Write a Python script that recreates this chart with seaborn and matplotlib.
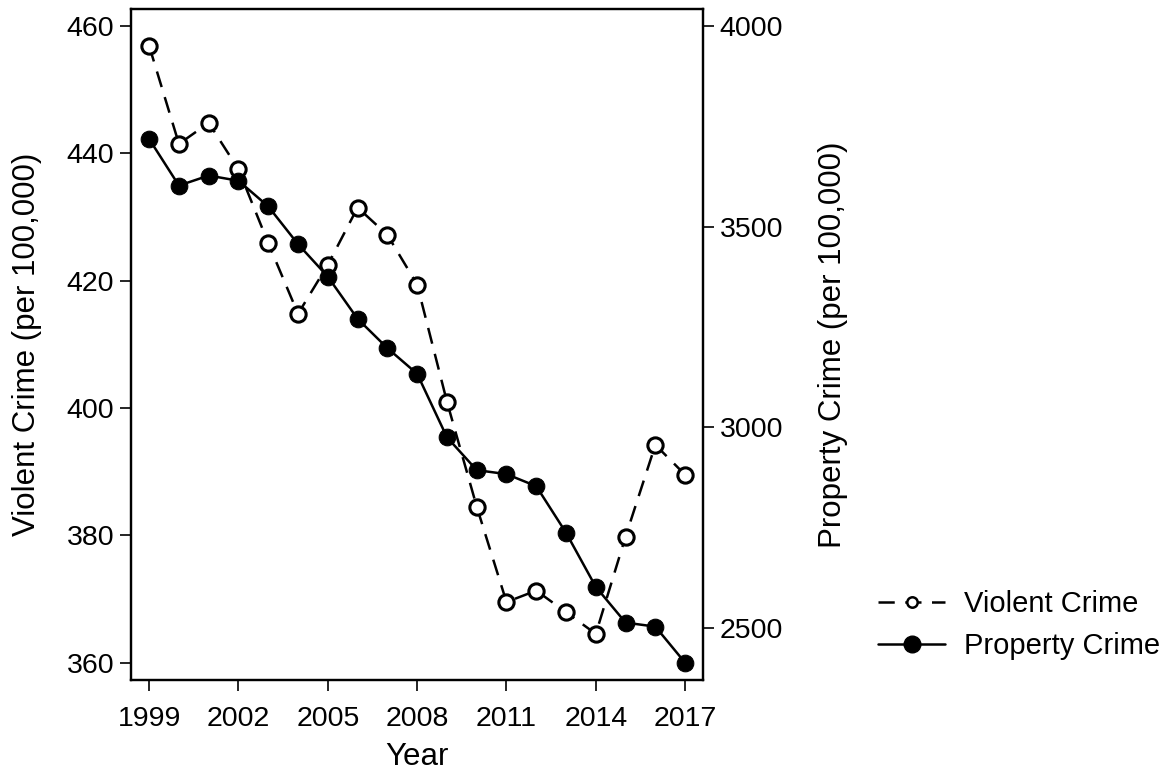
import matplotlib
matplotlib.use("Agg")
import matplotlib.pyplot as plt
import seaborn as sns
import pandas as pd
from matplotlib.lines import Line2D

years = list(range(1999, 2018))
violent = [456.9, 441.5, 444.8, 437.5, 425.9, 414.8, 422.5, 431.5, 427.2, 419.4,
           401.0, 384.5, 369.5, 371.3, 367.9, 364.5, 379.8, 394.2, 389.5]
property_ = [3718, 3602, 3627, 3614, 3550, 3456, 3375, 3270, 3197, 3133,
             2975, 2893, 2883, 2853, 2737, 2602, 2513, 2503, 2413]
year_ticks = [1999, 2002, 2005, 2008, 2011, 2014, 2017]
left_ticks = [360, 380, 400, 420, 440, 460]
right_ticks = [2500, 3000, 3500, 4000]

df = pd.DataFrame({"Year": years, "Violent": violent, "Property": property_})

sns.set_style("white")
plt.rcParams['font.family'] = ['Liberation Sans', 'DejaVu Sans']
plt.rcParams['text.color'] = 'black'
plt.rcParams['axes.labelcolor'] = 'black'

fig = plt.figure(figsize=(11.74, 7.76), dpi=100)
ax = fig.add_axes([131/1174, 96/776, 572/1174, 671/776])
ax2 = ax.twinx()

dash = (0, (6.5, 4.2))
sns.lineplot(data=df, x="Year", y="Violent", ax=ax, color="black", linewidth=1.8,
             linestyle=dash, marker="o", markersize=11, markerfacecolor="white",
             markeredgecolor="black", markeredgewidth=2.2)
sns.lineplot(data=df, x="Year", y="Property", ax=ax2, color="black", linewidth=1.8,
             marker="o", markersize=12, markerfacecolor="black", markeredgecolor="black")

ax.set_xlim(1998.39, 2017.6)
ax.set_ylim(357.25, 462.7)
ax2.set_ylim(2370, 4042)
ax.set_xticks(year_ticks)
ax.set_yticks(left_ticks)
ax2.set_yticks(right_ticks)

fs = 20.5
lfs = 22.5
ax.set_xlabel("Year", fontsize=lfs, labelpad=7)
ax.set_ylabel("Violent Crime (per 100,000)", fontsize=lfs, labelpad=18)
ax2.set_ylabel("Property Crime (per 100,000)", fontsize=lfs, labelpad=25)

for a in (ax, ax2):
    a.tick_params(axis="both", direction="out", length=8, width=1.2, labelsize=fs,
                  colors="black", pad=4)
    for s in a.spines.values():
        s.set_color("black")
        s.set_linewidth(1.6)
ax.tick_params(axis="y", left=True)
ax.tick_params(axis="x", bottom=True, pad=11)
ax2.tick_params(axis="y", right=True)

handles = [
    Line2D([], [], color="black", linewidth=1.8, linestyle=(0, (6.5, 4.2)), marker="o",
           markersize=7.5, markerfacecolor="white", markeredgecolor="black", markeredgewidth=1.8),
    Line2D([], [], color="black", linewidth=1.8, marker="o", markersize=12,
           markerfacecolor="black", markeredgecolor="black"),
]
fig.legend(handles, ["Violent Crime", "Property Crime"], loc="center left",
           bbox_to_anchor=(878/1174, 1 - 625/776), frameon=False, fontsize=21,
           borderpad=0, borderaxespad=0,
           handlelength=2.3, handletextpad=0.65, labelspacing=0.5)

fig.savefig("out.png", dpi=100, facecolor="white")
